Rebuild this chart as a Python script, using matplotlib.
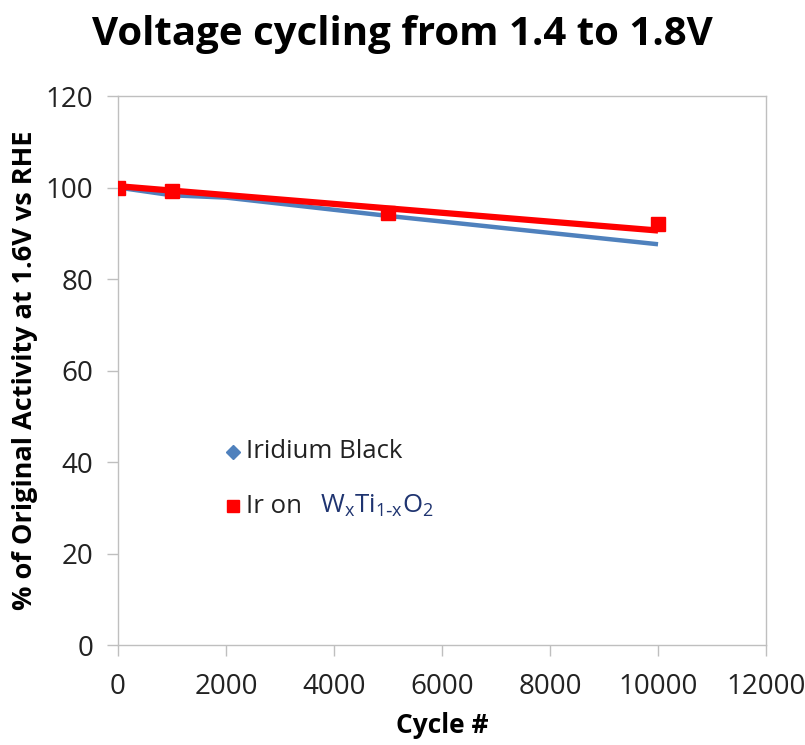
import matplotlib.pyplot as plt
from matplotlib.lines import Line2D

plt.rcParams['font.family'] = ['Open Sans', 'DejaVu Sans']

# data
cycles = [0, 1000, 2000, 5000, 10000]
iridium_black = [100, 98.3, 97.8, 93.8, 87.6]

ir_cycles = [0, 1000, 5000, 10000]
ir_on_wti = [100, 99.2, 94.5, 92.0]
# linear trend drawn through the Ir on WxTi1-xO2 points
ir_trend_cycles = [0, 10000]
ir_trend_values = [100.3, 90.6]

xticks = [0, 2000, 4000, 6000, 8000, 10000, 12000]
yticks = [0, 20, 40, 60, 80, 100, 120]

blue = '#4F81BD'
red = '#FF0000'
grey = '#BFBFBF'

fig = plt.figure(figsize=(8.05, 7.45), dpi=100)
ax = fig.add_axes([0.1466, 0.1342, 0.805, 0.7369])

ax.plot(cycles, iridium_black, color=blue, lw=3.2, solid_capstyle='butt', zorder=2)
ax.plot(ir_trend_cycles, ir_trend_values, color=red, lw=4.5,
        solid_capstyle='butt', zorder=3)
ax.plot(ir_cycles, ir_on_wti, color=red, lw=0, marker='s', ms=10, zorder=4)

ax.set_xlim(0, 12000)
ax.set_ylim(0, 120)
ax.set_xticks(xticks)
ax.set_yticks(yticks)
ax.tick_params(axis='both', labelsize=20, colors=grey, labelcolor='#222222',
               length=8, width=1, direction='out')
ax.tick_params(axis='x', pad=12)
ax.tick_params(axis='y', pad=10)
for sp in ax.spines.values():
    sp.set_color(grey)
    sp.set_linewidth(1)

ax.set_xlabel('Cycle #', fontsize=19, fontweight='bold', labelpad=8)
ax.set_ylabel('% of Original Activity at 1.6V vs RHE', fontsize=19.5,
              fontweight='bold', labelpad=5)
fig.suptitle('Voltage cycling from 1.4 to 1.8V', fontsize=29,
             fontweight='bold', y=0.98)

# legend, placed by hand like the original text boxes
ax.add_line(Line2D([0.177], [0.352], transform=ax.transAxes, marker='D',
                   ms=7, color=blue, lw=0))
ax.text(0.197, 0.352, 'Iridium Black', transform=ax.transAxes, fontsize=18.5,
        va='center', color='#222222')
ax.add_line(Line2D([0.177], [0.253], transform=ax.transAxes, marker='s',
                   ms=9, color=red, lw=0))
ax.text(0.197, 0.253, 'Ir on', transform=ax.transAxes, fontsize=18.5,
        va='center', color='#222222')
ax.text(0.312, 0.253, r'W$_\mathregular{x}$Ti$_\mathregular{1\text{-}x}$O$_\mathregular{2}$',
        transform=ax.transAxes, fontsize=18.5, va='center', color='#1F3470')

fig.savefig('out.png', dpi=100)
